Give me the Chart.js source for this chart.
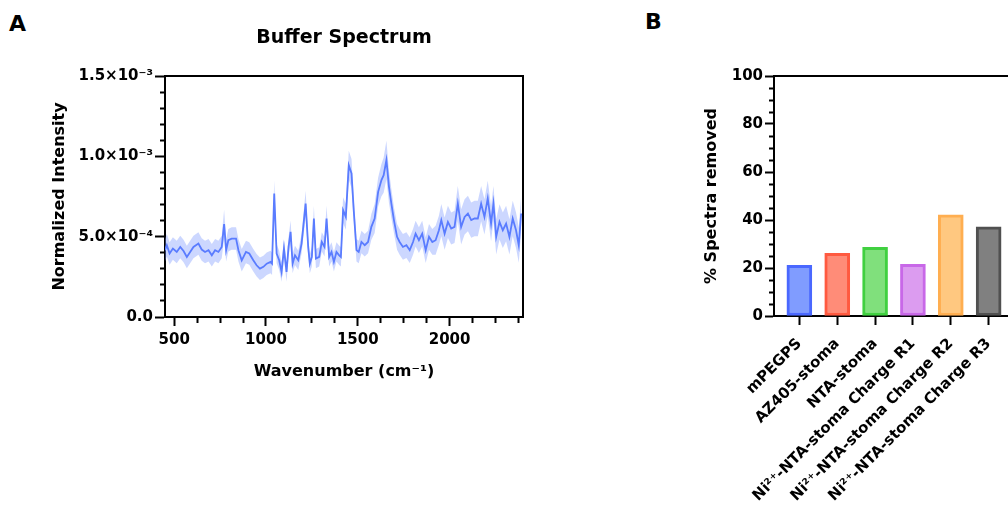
<!DOCTYPE html>
<html>
<head>
<meta charset="utf-8">
<script src="https://cdn.jsdelivr.net/npm/chart.js@4/dist/chart.umd.min.js"></script>
<style>
body { margin: 0; width: 1008px; height: 508px; overflow: hidden; position: relative; background: #fff; }
.panel { position: absolute; font: bold 22px "DejaVu Sans"; line-height: 22px; color: #000; }
#chartA { position: absolute; left: 0; top: 0; }
#chartB { position: absolute; left: 620px; top: 0; }
</style>
</head>
<body>
<div class="panel" style="left:9px;top:13px">A</div>
<div class="panel" style="left:645px;top:11px">B</div>
<canvas id="chartA" width="560" height="508"></canvas>
<canvas id="chartB" width="420" height="508"></canvas>
<script>
// panel A - buffer spectrum (mean +/- sd)
const wavenumber = [
    450, 460, 475, 493, 514, 533, 551, 569, 587, 605,
    632, 650, 668, 687, 705, 723, 741, 759, 772, 783,
    795, 813, 837, 850, 868, 891, 909, 931, 949, 967,
    986, 1004, 1025, 1033, 1045, 1058, 1072, 1085, 1098, 1112,
    1123, 1134, 1145, 1158, 1176, 1194, 1216, 1230, 1239, 1250,
    1261, 1272, 1290, 1304, 1319, 1330, 1344, 1357, 1370, 1384,
    1399, 1408, 1420, 1435, 1451, 1466, 1478, 1493, 1505, 1520,
    1538, 1556, 1574, 1592, 1611, 1629, 1641, 1656, 1670, 1683,
    1697, 1714, 1728, 1746, 1765, 1783, 1801, 1815, 1833, 1851,
    1870, 1888, 1906, 1924, 1942, 1955, 1973, 1991, 2009, 2027,
    2045, 2063, 2082, 2100, 2118, 2136, 2154, 2172, 2190, 2208,
    2226, 2239, 2254, 2272, 2290, 2308, 2326, 2344, 2362, 2377,
    2390
];

const meanIntensity = [
    4.16e-4, 4.47e-4, 3.95e-4, 4.26e-4, 4.05e-4, 4.36e-4, 4.11e-4, 3.74e-4, 4.05e-4, 4.36e-4,
    4.57e-4, 4.20e-4, 4.05e-4, 4.16e-4, 3.84e-4, 4.16e-4, 4.05e-4, 4.36e-4, 5.78e-4, 4.16e-4,
    4.78e-4, 4.88e-4, 4.88e-4, 4.16e-4, 3.53e-4, 4.05e-4, 3.95e-4, 3.53e-4, 3.22e-4, 3.01e-4,
    3.12e-4, 3.32e-4, 3.43e-4, 3.32e-4, 7.69e-4, 3.95e-4, 3.53e-4, 2.80e-4, 4.26e-4, 2.80e-4,
    4.36e-4, 5.30e-4, 3.32e-4, 3.84e-4, 3.53e-4, 4.57e-4, 7.06e-4, 4.36e-4, 3.32e-4, 3.74e-4,
    6.13e-4, 3.64e-4, 3.74e-4, 4.67e-4, 4.36e-4, 6.13e-4, 3.74e-4, 4.05e-4, 3.43e-4, 4.05e-4,
    3.84e-4, 3.74e-4, 6.65e-4, 6.23e-4, 9.45e-4, 8.93e-4, 6.65e-4, 4.16e-4, 4.05e-4, 4.67e-4,
    4.47e-4, 4.67e-4, 5.61e-4, 6.13e-4, 7.79e-4, 8.52e-4, 8.83e-4, 9.77e-4, 8.10e-4, 7.06e-4,
    6.03e-4, 4.99e-4, 4.67e-4, 4.36e-4, 4.47e-4, 4.16e-4, 4.67e-4, 5.19e-4, 4.78e-4, 5.19e-4,
    4.16e-4, 4.99e-4, 4.67e-4, 4.78e-4, 5.40e-4, 6.03e-4, 5.19e-4, 5.92e-4, 5.51e-4, 5.61e-4,
    7.06e-4, 5.61e-4, 6.23e-4, 6.44e-4, 6.03e-4, 6.13e-4, 6.13e-4, 7.06e-4, 6.23e-4, 7.38e-4,
    5.82e-4, 7.06e-4, 4.99e-4, 5.92e-4, 5.40e-4, 5.82e-4, 4.99e-4, 6.13e-4, 5.40e-4, 4.47e-4,
    6.44e-4
];

const sdIntensity = [
    0.7e-4, 0.7e-4, 0.7e-4, 0.7e-4, 0.7e-4, 0.7e-4, 0.7e-4, 0.7e-4, 0.7e-4, 0.7e-4,
    0.7e-4, 0.7e-4, 0.7e-4, 0.7e-4, 0.7e-4, 0.7e-4, 0.7e-4, 0.7e-4, 0.9e-4, 0.7e-4,
    0.7e-4, 0.7e-4, 0.7e-4, 0.7e-4, 0.7e-4, 0.7e-4, 0.7e-4, 0.7e-4, 0.7e-4, 0.7e-4,
    0.7e-4, 0.7e-4, 0.7e-4, 0.7e-4, 0.8e-4, 0.6e-4, 0.6e-4, 0.6e-4, 0.6e-4, 0.6e-4,
    0.6e-4, 0.7e-4, 0.6e-4, 0.6e-4, 0.6e-4, 0.6e-4, 0.8e-4, 0.6e-4, 0.6e-4, 0.6e-4,
    0.8e-4, 0.6e-4, 0.6e-4, 0.6e-4, 0.6e-4, 0.8e-4, 0.6e-4, 0.6e-4, 0.6e-4, 0.6e-4,
    0.6e-4, 0.6e-4, 0.8e-4, 0.8e-4, 0.9e-4, 0.9e-4, 0.7e-4, 0.7e-4, 0.7e-4, 0.7e-4,
    0.7e-4, 0.7e-4, 0.8e-4, 0.9e-4, 0.9e-4, 1.0e-4, 1.1e-4, 1.2e-4, 1.0e-4, 0.9e-4,
    0.8e-4, 0.8e-4, 0.8e-4, 0.8e-4, 0.8e-4, 0.8e-4, 0.8e-4, 0.8e-4, 0.8e-4, 0.8e-4,
    0.8e-4, 0.8e-4, 0.8e-4, 0.9e-4, 0.9e-4, 1.0e-4, 1.0e-4, 1.0e-4, 1.0e-4, 1.0e-4,
    1.1e-4, 1.1e-4, 1.1e-4, 1.1e-4, 1.1e-4, 1.1e-4, 1.1e-4, 1.1e-4, 1.1e-4, 1.1e-4,
    1.1e-4, 1.1e-4, 1.1e-4, 1.1e-4, 1.1e-4, 1.1e-4, 1.1e-4, 1.1e-4, 1.1e-4, 1.1e-4,
    1.1e-4
];

const xTickLabels = ['500', '1000', '1500', '2000'];
const yTickLabels = ['0.0', '5.0×10⁻⁴', '1.0×10⁻³', '1.5×10⁻³'];

// panel B - % spectra removed
const groups = [
    'mPEGPS',
    'AZ405-stoma',
    'NTA-stoma',
    'Ni²⁺-NTA-stoma Charge R1',
    'Ni²⁺-NTA-stoma Charge R2',
    'Ni²⁺-NTA-stoma Charge R3',
];
const removed = [21.1, 26.1, 28.6, 21.5, 42.2, 37.2];
const removedTicks = ['0', '20', '40', '60', '80', '100'];

const barFill = ['#809cff', '#ff8c78', '#80e07c', '#dc9cf0', '#ffc880', '#808080'];
const barEdge = ['#4a68ff', '#ff5a40', '#40d040', '#c868e8', '#ffae50', '#505050'];

const FONT = 'DejaVu Sans';
const tickFont = { family: FONT, size: 15, weight: 'bold' };
const titleFont = { family: FONT, size: 16, weight: 'bold' };

// top + right edge of the box
const frame = {
    id: 'frame',
    afterDraw(chart) {
        const { ctx, chartArea: a } = chart;
        ctx.save();
        ctx.strokeStyle = '#000';
        ctx.lineWidth = 2;
        ctx.beginPath();
        ctx.moveTo(a.left, a.top);
        ctx.lineTo(a.right, a.top);
        ctx.lineTo(a.right, a.bottom);
        ctx.stroke();
        ctx.restore();
    }
};

const axisBorder = { color: '#000', width: 2 };

const spectrumConfig = {
    type: 'line',
    data: {
        datasets: [
            {
                label: 'mean',
                data: wavenumber.map((x, i) => ({ x: x, y: meanIntensity[i] })),
                borderColor: '#5a7cff',
                borderWidth: 1.8,
                pointRadius: 0,
                fill: false,
            },
            {
                label: 'upper',
                data: wavenumber.map((x, i) => ({ x: x, y: meanIntensity[i] + sdIntensity[i] })),
                borderWidth: 0,
                borderColor: 'rgba(0,0,0,0)',
                pointRadius: 0,
                fill: '+1',
                backgroundColor: 'rgba(120,150,255,0.38)',
            },
            {
                label: 'lower',
                data: wavenumber.map((x, i) => ({ x: x, y: meanIntensity[i] - sdIntensity[i] })),
                borderWidth: 0,
                borderColor: 'rgba(0,0,0,0)',
                pointRadius: 0,
                fill: false,
            }
        ]
    },
    options: {
        responsive: false,
        animation: false,
        layout: { padding: { left: 50, top: 0, right: 37, bottom: 127 } },
        plugins: {
            legend: { display: false },
            tooltip: { enabled: false },
            title: {
                display: true,
                text: 'Buffer Spectrum',
                fullSize: false,
                color: '#000',
                font: { family: FONT, size: 19, weight: 'bold' },
                padding: { top: 26.6, bottom: 26.6 }
            }
        },
        scales: {
            x: {
                type: 'linear',
                min: 450,
                max: 2400,
                afterFit: s => { s.height = 64; },
                border: axisBorder,
                grid: {
                    drawOnChartArea: false,
                    tickLength: 9,
                    tickWidth: 2,
                    tickColor: '#000',
                    tickBorderDash: c => ((c.tick.value - 500) % 500 === 0 ? [] : [5, 20])
                },
                ticks: {
                    stepSize: 125,
                    includeBounds: false,
                    autoSkip: false,
                    maxRotation: 0,
                    padding: 5,
                    color: '#000',
                    font: tickFont,
                    callback: v => ((v - 500) % 500 === 0 ? xTickLabels[(v - 500) / 500] : '')
                },
                title: { display: true, text: 'Wavenumber (cm⁻¹)', color: '#000', font: titleFont, padding: 0 }
            },
            y: {
                min: 0,
                max: 0.0015,
                afterFit: s => { s.width = 115; },
                border: axisBorder,
                grid: {
                    drawOnChartArea: false,
                    tickLength: 10,
                    tickWidth: 2,
                    tickColor: '#000',
                    // short minor ticks, kept against the axis
                    tickBorderDash: c => (Math.round(c.tick.value / 1e-4) % 5 === 0 ? [] : [0, 5, 5, 100])
                },
                ticks: {
                    stepSize: 0.0001,
                    autoSkip: false,
                    padding: 2,
                    color: '#000',
                    font: tickFont,
                    callback: v => {
                        const k = Math.round(v / 1e-4);
                        return k % 5 === 0 ? yTickLabels[k / 5] : '';
                    }
                },
                title: { display: true, text: 'Normalized Intensity', color: '#000', font: titleFont, padding: 0 }
            }
        }
    },
    plugins: [frame]
};

const removedConfig = {
    type: 'bar',
    data: {
        datasets: [{
            label: '% Spectra removed',
            data: removed.map((v, i) => ({ x: i, y: v })),
            backgroundColor: barFill,
            borderColor: barEdge,
            borderWidth: 3,
            borderSkipped: false,
            barThickness: 25,
        }]
    },
    options: {
        responsive: false,
        animation: false,
        layout: { padding: { left: 82, top: 76, right: 26, bottom: 0 } },
        plugins: {
            legend: { display: false },
            tooltip: { enabled: false }
        },
        scales: {
            x: {
                type: 'linear',
                min: -0.67,
                max: 5.67,
                offset: false,
                afterFit: s => { s.height = 192; },
                border: axisBorder,
                grid: { offset: false, drawOnChartArea: false, tickLength: 9, tickWidth: 2, tickColor: '#000' },
                ticks: {
                    stepSize: 1,
                    includeBounds: false,
                    autoSkip: false,
                    minRotation: 45,
                    maxRotation: 45,
                    padding: 10,
                    color: '#000',
                    font: { family: FONT, size: 15, weight: 'bold' },
                    callback: v => groups[Math.round(v)]
                }
            },
            y: {
                min: 0,
                max: 100,
                afterFit: s => { s.width = 72; },
                border: axisBorder,
                grid: {
                    drawOnChartArea: false,
                    tickLength: 9,
                    tickWidth: 2,
                    tickColor: '#000',
                    tickBorderDash: c => (c.tick.value % 20 === 0 ? [] : [0, 4, 5, 100])
                },
                ticks: {
                    stepSize: 5,
                    autoSkip: false,
                    padding: 2,
                    color: '#000',
                    font: tickFont,
                    callback: v => (v % 20 === 0 ? removedTicks[v / 20] : '')
                },
                title: { display: true, text: '% Spectra removed', color: '#000', font: titleFont, padding: 0 }
            }
        }
    },
    plugins: [frame]
};

const spectrum = new Chart(
    document.getElementById('chartA'),
    spectrumConfig
);

const spectraRemoved = new Chart(
    document.getElementById('chartB'),
    removedConfig
);
</script>
</body>
</html>
